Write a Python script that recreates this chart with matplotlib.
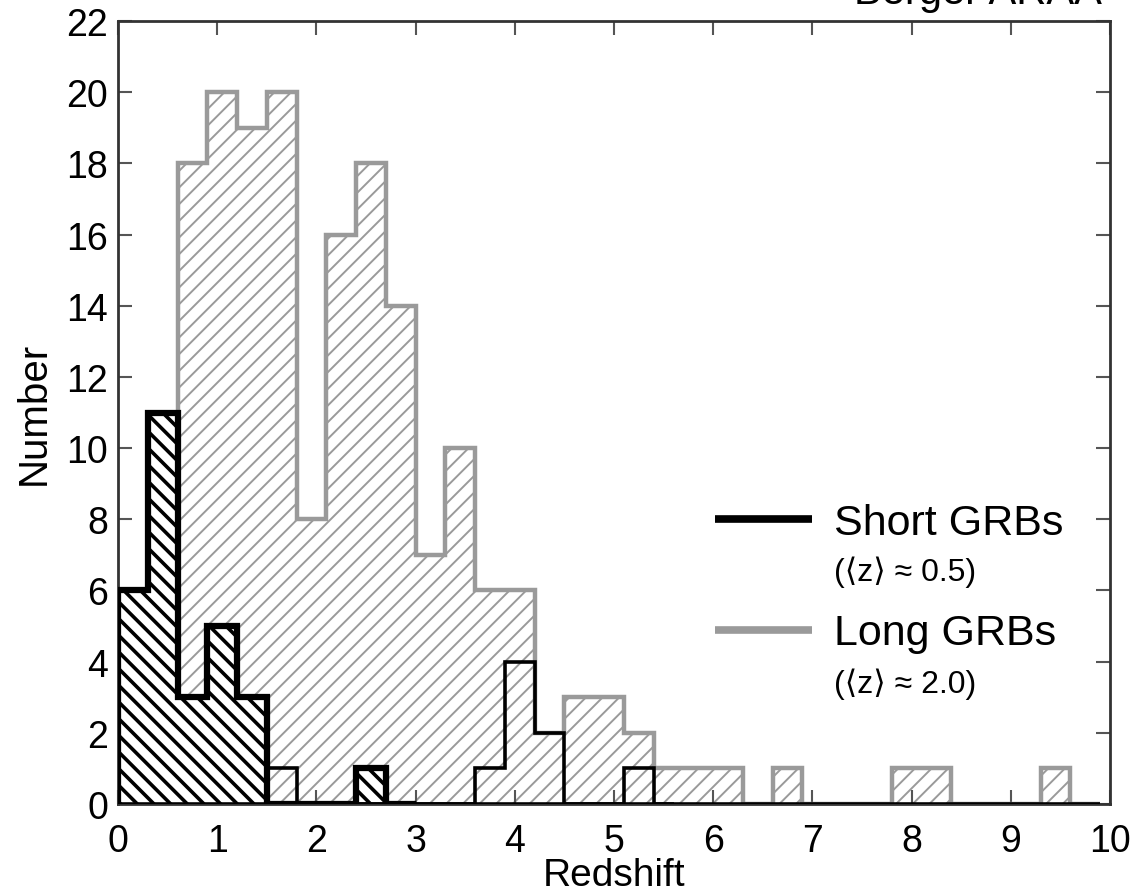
import numpy as np
import matplotlib
matplotlib.use("Agg")
import matplotlib.pyplot as plt

plt.rcParams['font.family'] = ['Liberation Sans', 'DejaVu Sans']

# ---- data ----
bin_width = 0.3
bin_edges = np.round(np.arange(0, 9.9 + 1e-9, bin_width), 2)   # 34 edges, 33 bins
long_counts = [5, 4, 18, 20, 19, 20, 8, 16, 18, 14, 7, 10, 6, 6, 2, 3, 3, 2,
               1, 1, 1, 0, 1, 0, 0, 0, 1, 1, 0, 0, 0, 1, 0]
short_secure = [6, 11, 3, 5, 3, 0, 0, 0, 1, 0, 0, 0, 0, 0, 0, 0, 0, 0,
                0, 0, 0, 0, 0, 0, 0, 0, 0, 0, 0, 0, 0, 0, 0]
short_tentative = [0, 0, 0, 0, 0, 1, 0, 0, 0, 0, 0, 0, 1, 4, 2, 0, 0, 1,
                   0, 0, 0, 0, 0, 0, 0, 0, 0, 0, 0, 0, 0, 0, 0]
x_ticks = [0, 1, 2, 3, 4, 5, 6, 7, 8, 9, 10]
y_ticks = [0, 2, 4, 6, 8, 10, 12, 14, 16, 18, 20, 22]
legend_labels = ["Short GRBs", "Long GRBs"]
legend_sub = ["(\u27e8z\u27e9 \u2248 0.5)", "(\u27e8z\u27e9 \u2248 2.0)"]

GRAY = "#9a9a9a"

fig = plt.figure(figsize=(11.41, 8.95), dpi=100)
ax = fig.add_axes([118/1141, 1 - 805/895, (1110-118)/1141, (805-22)/895])

edges = np.array(bin_edges)
centers = edges[:-1] + bin_width/2
long_arr = np.array(long_counts)
sec = np.array(short_secure)
ten = np.array(short_tentative)

# long GRBs: gray hatched
plt.rcParams['hatch.linewidth'] = 1.4
ax.bar(centers, long_arr, width=bin_width, facecolor='none', edgecolor=GRAY,
       hatch='//', linewidth=0, zorder=1)
ax.stairs(long_arr, edges, color=GRAY, linewidth=3.2, zorder=2)

# short GRBs, secure: white fill + black hatch
plt.rcParams['hatch.linewidth'] = 2.6
ax.bar(centers, sec, width=bin_width, facecolor='white', edgecolor='none',
       linewidth=0, zorder=3)
ax.bar(centers, sec, width=bin_width, facecolor='none', edgecolor='black',
       hatch='\\\\', linewidth=0, zorder=4)
# thin outline for tentative bins
ax.stairs(ten, edges, color='black', linewidth=2.6, zorder=5)
# thick outline for secure bins (baseline up to z = 3.0)
sec_edges_mask = edges <= 3.0 + 1e-9
ax.stairs(sec[:int(sec_edges_mask.sum()) - 1], edges[sec_edges_mask],
          color='black', linewidth=4.5, zorder=6)
# baseline of short histogram
ax.plot([1.5, 5.6], [0, 0], color='black', linewidth=2.6, zorder=5,
        solid_capstyle='butt')

ax.set_xlim(0, 10)
ax.set_ylim(0, 22)
ax.set_xticks(x_ticks)
ax.set_yticks(y_ticks)
ax.set_xticklabels([str(t) for t in x_ticks], fontsize=27)
ax.set_yticklabels([str(t) for t in y_ticks], fontsize=27)
ax.tick_params(axis='both', direction='in', top=True, right=True,
               length=10, width=1.5, color='#555555')
ax.tick_params(axis='y', pad=7)
ax.tick_params(axis='x', pad=14)
for s in ax.spines.values():
    s.set_linewidth(2.0)
    s.set_color('#333333')

ax.set_xlabel("Redshift", fontsize=28, labelpad=-2)
ax.set_ylabel("Number", fontsize=29, labelpad=10)

# legend (manual)
ax.plot([6.02, 7.0], [8.0, 8.0], color='black', linewidth=5.5, solid_capstyle='butt')
ax.plot([6.02, 7.0], [4.9, 4.9], color=GRAY, linewidth=5.5, solid_capstyle='butt')
ax.text(7.22, 7.9, legend_labels[0], fontsize=31, va='center', ha='left')
ax.text(7.22, 6.55, legend_sub[0], fontsize=23, va='center', ha='left')
ax.text(7.22, 4.8, legend_labels[1], fontsize=31, va='center', ha='left')
ax.text(7.22, 3.4, legend_sub[1], fontsize=23, va='center', ha='left')

# cropped header text at the top
fig.text(1102/1141, 1 - 4/895, "Berger ARAA", fontsize=30, ha='right', va='baseline')

fig.savefig("out.png", dpi=100)
